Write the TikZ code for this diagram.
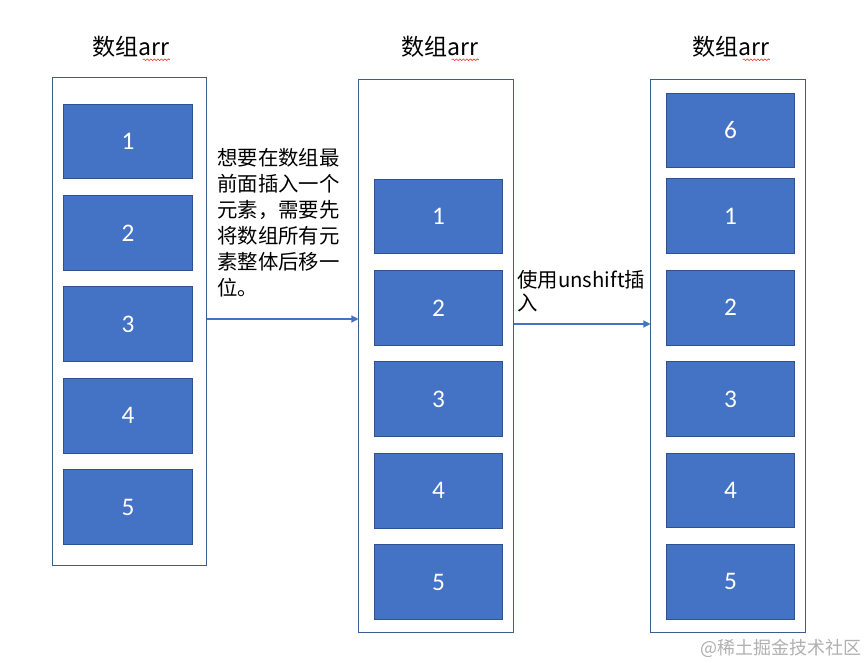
\documentclass[tikz,border=0pt]{standalone}
\usepackage{fontspec}
\setmainfont{Noto Sans CJK SC}
\newfontfamily\numfont{Carlito}
\usetikzlibrary{arrows.meta,calc,positioning,decorations.pathmorphing}
\definecolor{cellblue}{RGB}{68,114,196}
\definecolor{celledge}{RGB}{47,82,143}
\definecolor{frameedge}{RGB}{59,94,140}
\definecolor{markgray}{RGB}{176,176,176}

\begin{document}
\begin{tikzpicture}[x=0.025cm,y=-0.025cm,>=Latex,node distance=0.39cm]
  \tikzset{
    frame/.style={draw=frameedge,line width=0.7pt,minimum width=3.85cm},
    cell/.style={draw=celledge,line width=0.7pt,fill=cellblue,text=white,minimum width=3.2cm,minimum height=1.87cm,font=\numfont\fontsize{18}{20}\selectfont},
    title/.style={inner sep=0,font=\fontsize{16.4}{18}\selectfont},
    note/.style={anchor=north west,align=left,inner sep=0},
    link/.style={draw=cellblue,line width=0.8pt,-{Triangle[length=5pt,width=5pt]}},
    squiggle/.style={draw=red!85!white,line width=0.4pt,decorate,decoration={snake,amplitude=0.6pt,segment length=2.5pt}},
  }
  \fill[white] (0,0) rectangle (868,663);
  \useasboundingbox (0,0) rectangle (868,663);

  % the array before, while shifting, after unshift
  \node[frame,minimum height=12.175cm] (L) at (129.5,321.5) {};
  \node[frame,minimum height=13.8cm] (M) at (436,356) {};
  \node[frame,minimum height=13.8cm] (R) at (728,356) {};

  \node[title] (T1) at (131,47) {数组arr};
  \node[title] (T2) at (440,47) {数组arr};
  \node[title] (T3) at (731,47) {数组arr};
  \draw[squiggle] ($(T1.base east)+(-27,4)$) -- ($(T1.base east)+(0,4)$);
  \draw[squiggle] ($(T2.base east)+(-27,4)$) -- ($(T2.base east)+(0,4)$);
  \draw[squiggle] ($(T3.base east)+(-27,4)$) -- ($(T3.base east)+(0,4)$);

  \node[cell] (L1) at (128,141.5) {1};
  \node[cell,below=of L1] (L2) {2};
  \node[cell,below=of L2] (L3) {3};
  \node[cell,below=of L3] (L4) {4};
  \node[cell,below=of L4] (L5) {5};

  \node[cell] (M1) at (438.5,216.5) {1};
  \node[cell,below=of M1] (M2) {2};
  \node[cell,below=of M2] (M3) {3};
  \node[cell,below=of M3] (M4) {4};
  \node[cell,below=of M4] (M5) {5};

  \node[cell] (R6) at (730.5,130.5) {6};
  \node[cell,below=0.25cm of R6] (R1) {1};
  \node[cell,below=of R1] (R2) {2};
  \node[cell,below=of R2] (R3) {3};
  \node[cell,below=of R3] (R4) {4};
  \node[cell,below=of R4] (R5) {5};

  \node[note,font=\fontsize{14.5}{18.5}\selectfont] (N1) at (217,148)
    {想要在数组最\\前面插入一个\\元素，需要先\\将数组所有元\\素整体后移一\\位。};
  \node[note,font=\fontsize{14.5}{16.4}\selectfont] (N2) at (517,270)
    {使用unshift插\\入};

  \coordinate (a1) at ($(L.east)+(0,-2.5)$);
  \coordinate (a2) at ($(M.east)+(0,-32)$);
  \draw[link] (a1) -- (a1 -| M.west);
  \draw[link] (a2) -- (a2 -| R.west);

  \node[anchor=east,inner sep=0,text=markgray,font=\fontsize{12.8}{14}\selectfont] (mark) at (862,648) {@稀土掘金技术社区};
\end{tikzpicture}
\end{document}
